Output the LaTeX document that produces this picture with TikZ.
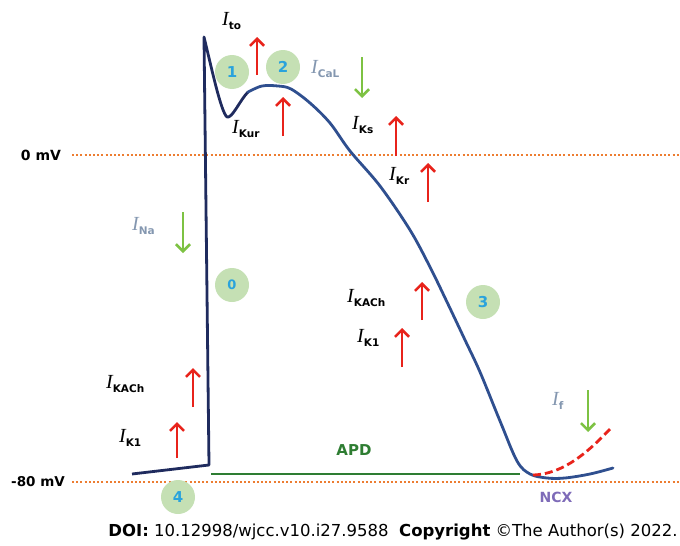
\documentclass[tikz,border=0pt]{standalone}
\usepackage{fontspec}
\setmainfont{DejaVu Sans}
\newfontfamily\serifI{Liberation Serif}
\usetikzlibrary{arrows.meta}
\definecolor{navy}{HTML}{1F2B5E}
\definecolor{apblue}{HTML}{2F4F8F}
\definecolor{dotorange}{HTML}{ED7D31}
\definecolor{upred}{HTML}{E8231B}
\definecolor{downgreen}{HTML}{7DC243}
\definecolor{circfill}{HTML}{C5E0B4}
\definecolor{numblue}{HTML}{2AA3DC}
\definecolor{greyblue}{HTML}{8497B0}
\definecolor{apdgreen}{HTML}{2E7D32}
\definecolor{ncxpurple}{HTML}{7E6BB8}
\newcommand\curr[1]{{\serifI\itshape\fontsize{20}{20}\selectfont I}\raisebox{-4pt}{\fontsize{10.5}{10.5}\selectfont\bfseries #1}}
\tikzset{
  mvline/.style={dotorange, line width=2pt, dash pattern=on 2pt off 2.2pt},
  uparrow/.style={upred, line width=2.6pt, -{Straight Barb[length=7pt,width=14pt,line width=2.6pt]}},
  downarrow/.style={downgreen, line width=2.6pt, -{Straight Barb[length=7pt,width=14pt,line width=2.6pt]}},
  phase/.style={circle, fill=circfill, minimum size=34pt, inner sep=0pt, text=numblue, font=\fontsize{15}{15}\selectfont\bfseries},
  curlab/.style={anchor=base west, inner sep=0pt, text=black},
  mvlab/.style={inner sep=0pt, font=\fontsize{14}{14}\selectfont\bfseries}
}
\begin{document}
\begin{tikzpicture}[x=1pt,y=-1pt]
\useasboundingbox (0,0) rectangle (680,546);
% voltage lines
\coordinate (z0) at (72,155); \coordinate (z1) at (680,155);
\coordinate (m0) at (72,482); \coordinate (m1) at (680,482);
\draw[mvline] (z0) -- (z1);
\draw[mvline] (m0) -- (m1);
\node[mvlab] (zl) at (41,155) {0 mV};
\node[mvlab, font=\fontsize{13.5}{13.5}\selectfont\bfseries] (ml) at (38,482) {-80 mV};
% APD line
\coordinate (apd0) at (211,474); \coordinate (apd1) at (520,474);
\draw[apdgreen, line width=2.8pt] (apd0) -- (apd1);
\node[text=apdgreen, font=\fontsize{15}{15}\selectfont\bfseries] (apd) at (354,450) {APD};
% phase circles
\node[phase, font=\fontsize{13}{13}\selectfont\bfseries] (c0) at (232,285) {0};
\node[phase] (c1) at (232,72) {1};
\node[phase] (c2) at (283,67) {2};
\node[phase] (c3) at (483,302) {3};
\node[phase] (c4) at (178,497) {4};
% action potential
\draw[navy, line width=2.8pt, line join=round] (132,474) -- (209,465) -- (204,37)
  .. controls (212,70) and (221,112) .. (227,117)
  .. controls (232,119) and (240,100) .. (248,92);
\draw[apblue, line width=2.8pt, line cap=round] plot[smooth, tension=0.55] coordinates {
  (248,92) (262,86) (278,86) (291,89) (310,103) (330,123) (350,151) (380,186) (410,230)
  (430,267) (447,302) (465,340) (480,372) (500,421) (517,461) (530,474) (547,478) (565,478) (590,474) (613,468)};
% If dashed
\draw[upred, line width=2.8pt, dash pattern=on 8pt off 4pt] (533,475) .. controls (565,474) and (590,450) .. (612,427);
% current arrows
\draw[uparrow] (257,75) -- (257,37);
\draw[uparrow] (283,136) -- (283,97);
\draw[uparrow] (396,156) -- (396,116);
\draw[uparrow] (428,202) -- (428,163);
\draw[uparrow] (422,320) -- (422,282);
\draw[uparrow] (402,367) -- (402,328);
\draw[uparrow] (193,407) -- (193,368);
\draw[uparrow] (177,458) -- (177,422);
\draw[downarrow] (362,57) -- (362,98);
\draw[downarrow] (183,212) -- (183,253);
\draw[downarrow] (588,390) -- (588,432);
% current labels
\node[curlab] (ito) at (222,25) {\curr{to}};
\node[curlab, text=greyblue] (ical) at (311,73) {\curr{CaL}};
\node[curlab] (ikur) at (232,133) {\curr{Kur}};
\node[curlab] (iks) at (352,129) {\curr{Ks}};
\node[curlab] (ikr) at (389,180) {\curr{Kr}};
\node[curlab, text=greyblue] (ina) at (132,230) {\curr{Na}};
\node[curlab] (ikach) at (347,302) {\curr{KACh}};
\node[curlab] (ik1) at (357,342) {\curr{K1}};
\node[curlab] (ikachl) at (106,388) {\curr{KACh}};
\node[curlab] (ik1l) at (119,442) {\curr{K1}};
\node[curlab, text=greyblue] (if) at (552,405) {\curr{f}};
\node[text=ncxpurple, font=\fontsize{14}{14}\selectfont\bfseries] (ncx) at (556,497) {NCX};
% footer
\node[font=\fontsize{16.5}{16.5}\selectfont, inner sep=0pt] (doi) at (393,532) {\textbf{DOI:} 10.12998/wjcc.v10.i27.9588\ \ \textbf{Copyright} ©The Author(s) 2022.};
\end{tikzpicture}
\end{document}
